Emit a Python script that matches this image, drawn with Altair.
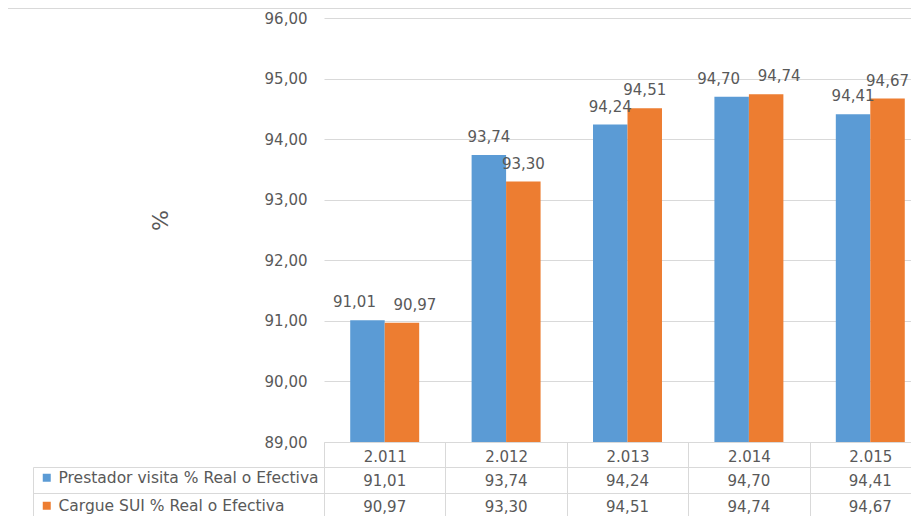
import altair as alt
import pandas as pd

# ---- data ----
years = ["2.011", "2.012", "2.013", "2.014", "2.015"]
series = ["Prestador visita % Real o Efectiva", "Cargue SUI % Real o Efectiva"]
prestador = [91.01, 93.74, 94.24, 94.70, 94.41]
cargue = [90.97, 93.30, 94.51, 94.74, 94.67]
y_ticks = [89, 90, 91, 92, 93, 94, 95, 96]
colors = ["#5B9BD5", "#ED7D31"]

rows = []
for i, yr in enumerate(years):
    rows.append({"year": yr, "series": series[0], "idx": 0, "value": prestador[i],
                 "other": cargue[i]})
    rows.append({"year": yr, "series": series[1], "idx": 1, "value": cargue[i],
                 "other": prestador[i]})
df = pd.DataFrame(rows)

# ---- style ----
W, H = 607, 424
GRID = "#d9d9d9"
TXT = "#595959"
FONT = "DejaVu Sans"
FMT = "replace(format(datum.value, '.2f'), '.', ',')"

x_enc = alt.X(
    "year:N",
    sort=years,
    scale=alt.Scale(domain=years, paddingInner=0, paddingOuter=0),
    axis=alt.Axis(
        orient="bottom", title=None, labelAngle=0, tickBand="extent",
        tickSize=80, tickColor=GRID, domainColor=GRID, labelPadding=-73,
        labelFontSize=15, labelColor=TXT, labelFont=FONT, grid=False,
    ),
)
xoff_enc = alt.XOffset(
    "series:N", sort=series,
    scale=alt.Scale(domain=series, paddingInner=0, paddingOuter=0.76),
)
y_enc = alt.Y(
    "value:Q",
    scale=alt.Scale(domain=[89, 96], nice=False, zero=False),
    axis=alt.Axis(
        values=y_ticks, labelExpr=FMT, grid=True, gridColor=GRID, ticks=False,
        domain=False, labelPadding=17, labelFontSize=15, labelColor=TXT,
        labelFont=FONT, title="%", titleX=-164, titleY=202, titleAngle=270,
        titleFontSize=22, titleFontWeight="normal", titleColor=TXT,
        titleFont=FONT, titleAlign="center", titleBaseline="middle",
    ),
)

base = alt.Chart(df).transform_calculate(label=FMT)

bars = base.mark_bar().encode(
    x=x_enc,
    xOffset=xoff_enc,
    y=y_enc,
    y2=alt.Y2(datum=89),
    color=alt.Color(
        "series:N", sort=series,
        scale=alt.Scale(domain=series, range=colors),
        legend=alt.Legend(
            orient="none", legendX=-285, legendY=452, title=None,
            symbolType="square", symbolSize=64, symbolStrokeWidth=0,
            labelFontSize=15.5, labelColor=TXT, labelFont=FONT, rowPadding=11,
            labelLimit=400, padding=0, labelOffset=4,
        ),
    ),
)

# labels that would collide with their neighbour are pushed sideways
labels = base.transform_calculate(
    shift="abs(datum.value - datum.other) < 0.2 ? (datum.idx == 0 ? -13 : 13) : 0"
).mark_text(
    baseline="alphabetic", dy=-13, fontSize=15, font=FONT, color=TXT
).encode(
    x=x_enc, xOffset=xoff_enc, y=alt.Y("value:Q"), text=alt.Text("label:N"),
)

labels_l = labels.transform_filter("datum.shift < 0").mark_text(
    baseline="alphabetic", dy=-13, dx=-13, fontSize=15, font=FONT, color=TXT)
labels_r = labels.transform_filter("datum.shift > 0").mark_text(
    baseline="alphabetic", dy=-13, dx=13, fontSize=15, font=FONT, color=TXT)
labels_c = labels.transform_filter("datum.shift == 0")

plot = alt.layer(bars, labels_c, labels_l, labels_r)

table = base.mark_text(baseline="middle", fontSize=15, font=FONT, color=TXT).encode(
    x=x_enc,
    y=alt.Y("series:N", scale=alt.Scale(domain=series, range=[463, 489], padding=0), axis=None),
    text=alt.Text("label:N"),
)

one = alt.Data(values=[{"k": 0}])


def vrule(xv, y1, y2):
    return alt.Chart(one).mark_rule(color=GRID, strokeWidth=1).encode(
        x=alt.value(xv), y=alt.value(y1), y2=alt.value(y2)
    )


def hrule(yv, x1, x2):
    return alt.Chart(one).mark_rule(color=GRID, strokeWidth=1).encode(
        y=alt.value(yv), x=alt.value(x1), x2=alt.value(x2)
    )


chart = (
    alt.layer(
        vrule(-316.5, -9.5, 500),
        hrule(-9.5, -316.5, 640),
        hrule(449.5, -290.5, 640),
        hrule(475.5, -290.5, 640),
        vrule(-290.5, 449.5, 500),
        plot,
        table,
    )
    .resolve_scale(y="independent")
    .properties(
        width=W, height=H,
        padding={"left": 316, "top": 10, "right": -20, "bottom": 74},
        autosize=alt.AutoSizeParams(type="none"),
        background="white",
    )
    .configure_view(stroke=None)
)

chart.save("out.html", embed_options={"renderer": "svg", "actions": False})
